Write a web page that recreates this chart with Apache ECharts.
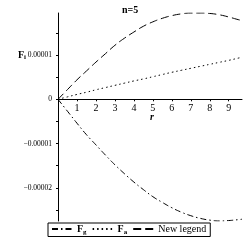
<!DOCTYPE html>
<html><head><meta charset="utf-8">
<script src="https://cdn.jsdelivr.net/npm/echarts@6/dist/echarts.min.js"></script>
<style>html,body{margin:0;padding:0;background:#fff}#c{width:245px;height:245px}</style>
</head><body><div id="c"></div>
<script>
// values in units of 1e-5
const rValues = [0,0.5,1,1.5,2,2.5,3,3.5,4,4.5,5,5.5,6,6.5,7,7.5,8,8.5,9,9.5,9.7];
const Fg = [0,-0.27,-0.54,-0.80,-1.03,-1.26,-1.48,-1.68,-1.87,-2.04,-2.20,-2.33,-2.45,-2.55,-2.63,-2.69,-2.73,-2.75,-2.74,-2.72,-2.71];
const Fa = [0,0.055,0.11,0.16,0.215,0.265,0.315,0.365,0.415,0.46,0.51,0.56,0.61,0.655,0.70,0.745,0.79,0.835,0.88,0.93,0.95];
const Fnew = [0,0.22,0.44,0.64,0.84,1.03,1.22,1.38,1.52,1.65,1.75,1.83,1.89,1.93,1.95,1.95,1.94,1.91,1.86,1.80,1.78];
const yTickValues = [-2,-1,0,1];
const yTickLabels = ['\u22120.00002','\u22120.00001','0','0.00001'];
const yMinorTicks = [-2.5,-2,-1.5,-1,-0.5,0,0.5,1,1.5];
const seriesNames = ['Fg','Fa','New legend'];

const font = 'Liberation Serif';
const pair = (xs, ys) => xs.map((x,i)=>[x, ys[i]]);
const chart = echarts.init(document.getElementById('c'), null, {renderer:'canvas'});
const gridTop = 13, gridH = 208, yMin = -2.75, yMax = 1.95;
const zeroOffset = gridH * (0 - yMin) / (yMax - yMin);
chart.setOption({
  animation:false,
  title:{text:'n=5', left:117, top:0, textStyle:{fontFamily:font, fontWeight:'bold', fontSize:10, color:'#000'}},
  grid:{left:58, right:3, top:gridTop, height:gridH},
  xAxis:{type:'value', min:0, max:9.7, interval:1, position:'bottom', offset:-zeroOffset,
    axisLine:{onZero:false, lineStyle:{color:'#000', width:1}},
    axisTick:{show:true, length:2, lineStyle:{color:'#000'}},
    axisLabel:{fontFamily:font, fontSize:10, color:'#000', margin:4,
      formatter:v=> v===0 ? '' : String(v), showMaxLabel:false},
    splitLine:{show:false}},
  yAxis:{type:'value', min:yMin, max:yMax,
    axisLine:{show:true, onZero:false, lineStyle:{color:'#000', width:1}},
    axisTick:{show:true, length:2, customValues:yMinorTicks, lineStyle:{color:'#000'}},
    axisLabel:{fontFamily:font, fontSize:7.5, color:'#000', margin:6, customValues:yTickValues,
      formatter:v=>{const i=yTickValues.findIndex(t=>Math.abs(t-v)<1e-6); return i>=0?yTickLabels[i]:'';}},
    splitLine:{show:false}},
  legend:{left:48, top:223, data:seriesNames, itemWidth:20, itemHeight:8, itemGap:5,
    padding:[1,4,1,3], borderColor:'#000', borderWidth:1, borderRadius:0,
    itemStyle:{opacity:0},
    formatter:n=> n==='Fg' ? '{b|F}{s|g}' : (n==='Fa' ? '{b|F}{s|a}' : '{n|New legend}'),
    textStyle:{fontFamily:font, color:'#000', fontSize:10,
      rich:{b:{fontFamily:font, fontWeight:'bold', fontSize:10, color:'#000'},
            s:{fontFamily:font, fontWeight:'bold', fontSize:7, color:'#000', padding:[6,0,0,0]},
            n:{fontFamily:font, fontSize:10, color:'#000'}}}},
  series:[
    {name:'Fg', type:'line', data:pair(rValues,Fg), smooth:true, showSymbol:false, symbol:'none',
     itemStyle:{color:'#000'}, lineStyle:{color:'#000', width:1, type:[6,3,1.5,3]}},
    {name:'Fa', type:'line', data:pair(rValues,Fa), smooth:true, showSymbol:false, symbol:'none',
     itemStyle:{color:'#000'}, lineStyle:{color:'#000', width:1, type:[1.5,3]}},
    {name:'New legend', type:'line', data:pair(rValues,Fnew), smooth:true, showSymbol:false, symbol:'none',
     itemStyle:{color:'#000'}, lineStyle:{color:'#000', width:1, type:[8,4]}}
  ],
  graphic:[
    {type:'text', left:18, top:50, style:{text:'{b|F}{s|i}', rich:{b:{fontFamily:font, fontWeight:'bold', fontSize:10, fill:'#000'}, s:{fontFamily:font, fontWeight:'bold', fontSize:7, fill:'#000', padding:[5,0,0,0]}}}},
    {type:'text', left:150, top:112, style:{text:'r', fontFamily:font, fontStyle:'italic', fontWeight:'bold', fontSize:10, fill:'#000'}}
  ]
});
</script></body></html>
